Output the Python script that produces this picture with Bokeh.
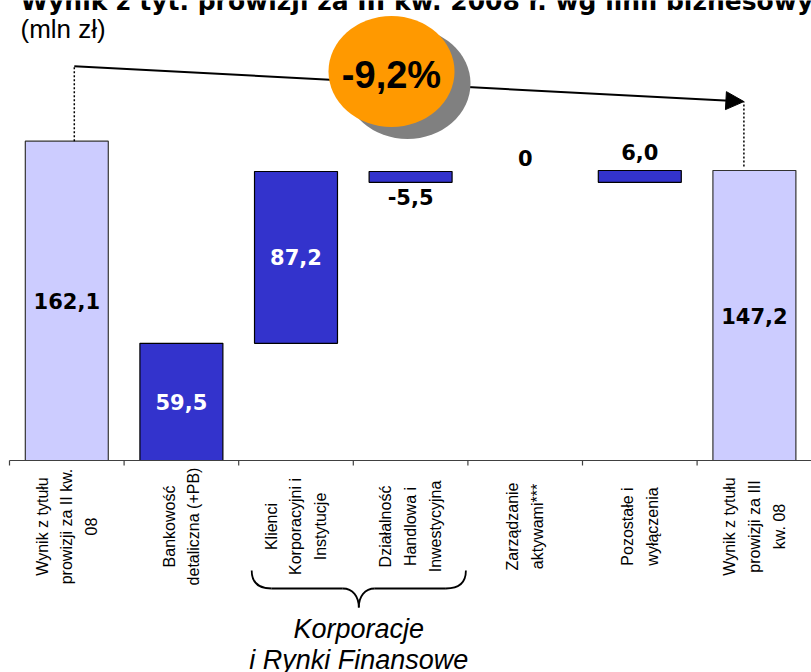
from bokeh.plotting import figure
from bokeh.models import Range1d, ColumnDataSource, Arrow, NormalHead
from bokeh.core.properties import value
from bokeh.embed import file_html
from bokeh.resources import INLINE

# ---------------- data ----------------
categories = [
    "Wynik z tytułu\nprowizji za II kw.\n08",
    "Bankowość\ndetaliczna (+PB)",
    "Klienci\nKorporacyjni i\nInstytucje",
    "Działalność\nHandlowa i\nInwestycyjna",
    "Zarządzanie\naktywami***",
    "Pozostałe i\nwyłączenia",
    "Wynik z tytułu\nprowizji za III\nkw. 08",
]
values = [162.1, 59.5, 87.2, -5.5, 0.0, 6.0, 147.2]
kinds = ["total", "delta", "delta", "delta", "delta", "delta", "total"]
group_label = "Korporacje\ni Rynki Finansowe"
group_members = [2, 3]
title_text = "Wynik z tyt. prowizji za III kw. 2008 r. wg linii biznesowych"
unit_text = "(mln zł)"

# ---------------- layout constants ----------------
W, H = 811, 672
AXIS_PX = 460.0      # pixel row of the zero line
LEFT_PX = 9.0        # pixel column of the first category boundary
PX_PER_UNIT = 1.97   # vertical pixels per mln zł
PX_PER_CAT = 114.6   # horizontal pixels per category

def dx(px):
    return (px - LEFT_PX) / PX_PER_CAT

def dy(py):
    return (AXIS_PX - py) / PX_PER_UNIT

p = figure(width=W, height=H, x_range=Range1d(dx(0), dx(W)), y_range=Range1d(dy(H), dy(0)),
           output_backend="svg", toolbar_location=None, min_border=0,
           min_border_left=0, min_border_right=0, min_border_top=0, min_border_bottom=0)
p.axis.visible = False
p.grid.visible = False
p.outline_line_color = None
p.background_fill_color = "white"
p.border_fill_color = "white"

fmt = lambda v: ("%.1f" % v).replace(".", ",") if v != 0 else "0"

# ---------------- waterfall geometry ----------------
xs, bottoms, tops, fills, lines = [], [], [], [], []
lx, ly, ltxt, lcol = [], [], [], []
running = 0.0
for i, (v, k) in enumerate(zip(values, kinds)):
    cx = i + 0.5
    if k == "total":
        b, t = 0.0, v
        fill, line = "#CCCCFF", "#333333"
    else:
        b, t = running, running + v
        running = t
        fill, line = "#3333CC", "#000000"
    lo, hi = min(b, t), max(b, t)
    if v != 0:
        xs.append(cx); bottoms.append(lo); tops.append(hi); fills.append(fill); lines.append(line)
    lx.append(cx)
    ltxt.append(fmt(v))
    if abs(v) >= 20:
        ly.append((lo + hi) / 2)
        lcol.append("white" if k == "delta" else "black")
    elif v < 0:
        ly.append(lo - 15 / PX_PER_UNIT)
        lcol.append("black")
    elif v == 0:
        ly.append(hi + 24 / PX_PER_UNIT)
        lcol.append("black")
    else:
        ly.append(hi + 19 / PX_PER_UNIT)
        lcol.append("black")

bars = ColumnDataSource(dict(x=xs, bottom=bottoms, top=tops, fill=fills, line=lines))
p.vbar(x="x", bottom="bottom", top="top", width=0.724, fill_color="fill",
       line_color="line", line_width=1.2, source=bars)

labels = ColumnDataSource(dict(x=lx, y=ly, text=ltxt, color=lcol))
p.text(x="x", y="y", text="text", text_color="color", text_font=value("DejaVu Sans"),
       text_font_style="bold", text_font_size="21px", text_align="center",
       text_baseline="middle", source=labels)

# ---------------- axis line and ticks ----------------
n = len(categories)
p.segment(x0=[0], y0=[0], x1=[n], y1=[0], line_color="#404040", line_width=1.2)
p.segment(x0=list(range(n + 1)), y0=[0] * (n + 1), x1=list(range(n + 1)),
          y1=[-5 / PX_PER_UNIT] * (n + 1), line_color="#404040", line_width=1.2)

# ---------------- category labels (rotated) ----------------
p.text(x=[i + 0.5 for i in range(n)], y=[dy(526)] * n, text=categories, angle=1.5707963,
       text_font=value("Liberation Sans"), text_font_size="16px", text_color="black",
       text_align="center", text_baseline="middle", text_line_height=1.45)

# ---------------- brace under the group ----------------
g0, g1 = min(group_members), max(group_members) + 1
gl, gr = g0 * PX_PER_CAT + LEFT_PX + 13, g1 * PX_PER_CAT + LEFT_PX - 2
gm = (gl + gr) / 2
top_y, mid_y, tip_y = 570, 588, 607
p.bezier(x0=[dx(gl), dx(gm - 16), dx(gr), dx(gm + 16)],
         y0=[dy(top_y), dy(mid_y), dy(top_y), dy(mid_y)],
         x1=[dx(gl + 20), dx(gm), dx(gr - 20), dx(gm)],
         y1=[dy(mid_y), dy(tip_y), dy(mid_y), dy(tip_y)],
         cx0=[dx(gl), dx(gm - 6), dx(gr), dx(gm + 6)],
         cy0=[dy(582), dy(mid_y), dy(582), dy(mid_y)],
         cx1=[dx(gl + 6), dx(gm), dx(gr - 6), dx(gm)],
         cy1=[dy(mid_y), dy(596), dy(mid_y), dy(596)],
         line_color="black", line_width=1.8)
p.segment(x0=[dx(gl + 20), dx(gm + 16)], y0=[dy(mid_y)] * 2,
          x1=[dx(gm - 16), dx(gr - 20)], y1=[dy(mid_y)] * 2,
          line_color="black", line_width=1.8)
p.text(x=[dx(gm)], y=[dy(644)], text=[group_label], text_font=value("Liberation Sans"),
       text_font_style="italic", text_font_size="27px", text_align="center",
       text_baseline="middle", text_line_height=1.05, text_color="black")

# ---------------- title (cut at the top edge, as in the source) ----------------
p.text(x=[dx(20)], y=[dy(0.5)], text=[title_text], text_font=value("DejaVu Sans"),
       text_font_style="bold", text_font_size="25px", text_align="left",
       text_baseline="alphabetic", text_color="black")
p.text(x=[dx(20)], y=[dy(28)], text=[unit_text], text_font=value("Liberation Sans"),
       text_font_size="26px", text_align="left", text_baseline="middle", text_color="black")

# ---------------- change arrow with bubble ----------------
first_top, last_top = values[0], values[-1]
ax0, ax1 = 0.5 + 7.5 / PX_PER_CAT, (n - 0.5) - 10.5 / PX_PER_CAT
ay0, ay1 = first_top + 38, last_top + 35
p.segment(x0=[ax0, ax1], y0=[first_top, last_top + 2], x1=[ax0, ax1], y1=[ay0, ay1],
          line_color="black", line_width=1.5, line_dash="2 2")
p.add_layout(Arrow(end=NormalHead(size=18, fill_color="black", line_color="black"),
                   x_start=ax0, y_start=ay0, x_end=ax1, y_end=ay1,
                   line_color="black", line_width=2, level="underlay"))

change = (values[-1] - values[0]) / values[0] * 100
bx, by = dx(391), dy(71)
ew, eh = 126 / PX_PER_CAT, 111 / PX_PER_UNIT
p.ellipse(x=[bx + 16 / PX_PER_CAT], y=[by - 12 / PX_PER_UNIT], width=ew, height=eh,
          fill_color="#808080", line_color=None)
p.ellipse(x=[bx], y=[by], width=ew, height=eh, fill_color="#FF9900", line_color=None)
p.text(x=[dx(391)], y=[dy(74)], text=[("%.1f%%" % change).replace(".", ",")],
       text_font=value("Liberation Sans"), text_font_style="bold", text_font_size="38px",
       text_align="center", text_baseline="middle", text_color="black")

open("out.html", "w").write(file_html(p, INLINE))
